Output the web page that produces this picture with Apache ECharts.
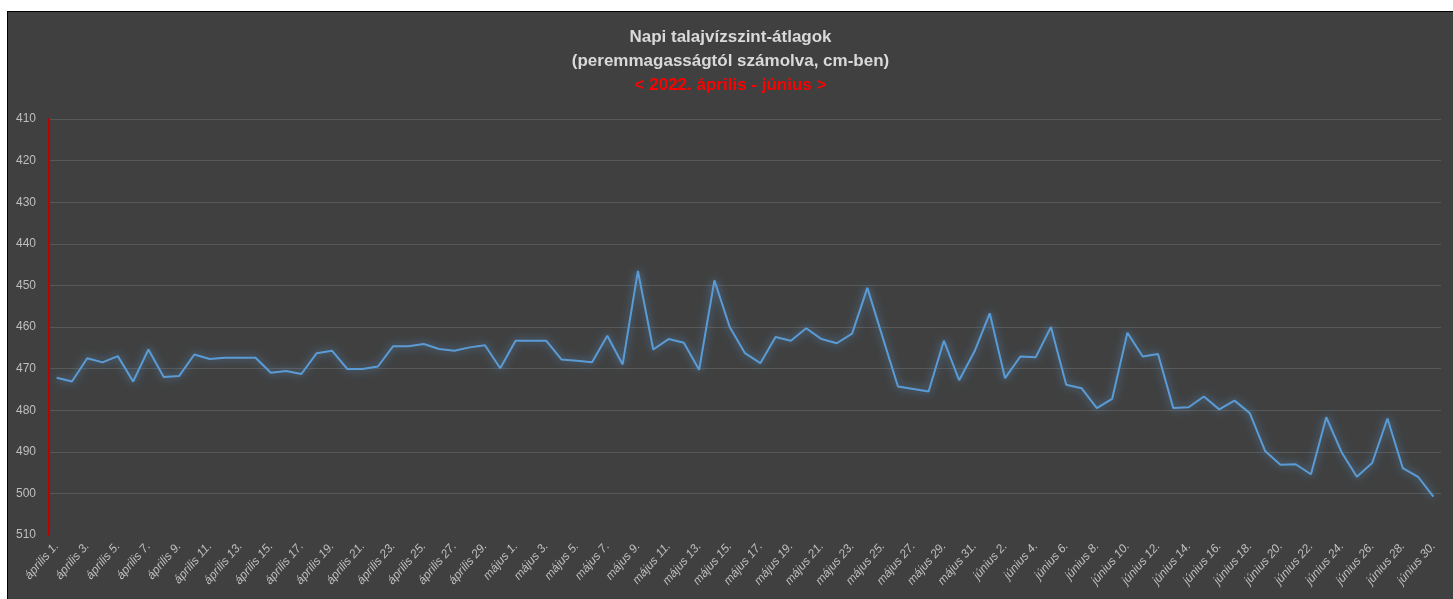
<!DOCTYPE html>
<html>
<head>
<meta charset="utf-8">
<script src="https://cdn.jsdelivr.net/npm/echarts@6/dist/echarts.min.js"></script>
<style>
html,body{margin:0;padding:0;background:#fff;width:1453px;height:599px;overflow:hidden;}
#chart{position:absolute;left:7px;top:11px;width:1445px;height:587px;border:1px solid #000;background:#404040;}
</style>
</head>
<body>
<div id="chart"></div>
<script>
const titleLines = ["Napi talajvízszint-átlagok", "(peremmagasságtól számolva, cm-ben)"];
const subtitleText = "< 2022. április - június >";
const monthNames = ["április", "május", "június"];
const monthDays = [30, 31, 30];
const yTicks = [410, 420, 430, 440, 450, 460, 470, 480, 490, 500, 510];

const aprilValues = [472.2, 473.1, 467.5, 468.5, 467.0, 473.1, 465.4, 472.0, 471.8, 466.6,
  467.7, 467.4, 467.4, 467.4, 471.0, 470.6, 471.3, 466.3, 465.7, 470.1,
  470.1, 469.5, 464.6, 464.6, 464.1, 465.3, 465.7, 464.9, 464.4, 469.9];
const mayValues = [463.3, 463.3, 463.3, 467.8, 468.1, 468.5, 462.1, 469.0, 446.5, 465.4,
  462.9, 463.8, 470.3, 448.8, 460.0, 466.3, 468.7, 462.4, 463.3, 460.3,
  462.9, 463.9, 461.6, 450.6, 462.5, 474.3, 474.9, 475.5, 463.3, 472.8, 465.9];
const juneValues = [456.7, 472.3, 467.1, 467.3, 460.0, 473.9, 474.7, 479.5, 477.3, 461.4,
  467.1, 466.5, 479.5, 479.3, 476.7, 479.8, 477.7, 480.7, 489.8, 493.1,
  493.0, 495.4, 481.7, 490.1, 496.0, 492.7, 482.0, 493.9, 496.0, 500.8];

const categories = [];
monthNames.forEach((m, k) => { for (let d = 1; d <= monthDays[k]; d++) categories.push(m + " " + d + "."); });
const values = aprilValues.concat(mayValues, juneValues);

const chart = echarts.init(document.getElementById('chart'));
chart.setOption({
  backgroundColor: '#404040',
  animation: false,
  title: [
    { text: titleLines.join('\n'), left: 'center', top: 8,
      textStyle: { color: '#d9d9d9', fontSize: 17, fontWeight: 'bold', fontFamily: 'Liberation Sans', lineHeight: 24 } },
    { text: subtitleText, left: 'center', top: 56,
      textStyle: { color: '#ff0000', fontSize: 17, fontWeight: 'bold', fontFamily: 'Liberation Sans', lineHeight: 24 } }
  ],
  grid: { left: 41, right: 12, top: 107, bottom: 64 },
  xAxis: {
    type: 'category', data: categories, boundaryGap: true,
    axisLine: { show: false }, axisTick: { show: false },
    axisLabel: { interval: 1, rotate: 49, color: '#bfbfbf', fontSize: 12, fontFamily: 'Liberation Sans', fontStyle: 'italic', margin: 9 }
  },
  yAxis: {
    type: 'value', inverse: true, min: 410, max: 510, interval: 10,
    axisLine: { show: true, lineStyle: { color: '#c00000', width: 2 } },
    axisTick: { show: false },
    axisLabel: { color: '#bfbfbf', fontSize: 12, fontFamily: 'Liberation Sans', margin: 13, align: 'right',
      formatter: v => yTicks.includes(v) ? String(v) : '' },
    splitLine: { show: true, showMaxLine: false, lineStyle: { color: '#585858', width: 1 } }
  },
  series: [{
    type: 'line', data: values, symbol: 'none', smooth: false,
    lineStyle: { color: '#5b9bd5', width: 2, shadowBlur: 9, shadowColor: 'rgba(91,155,213,0.85)' }
  }]
});
</script>
</body>
</html>
